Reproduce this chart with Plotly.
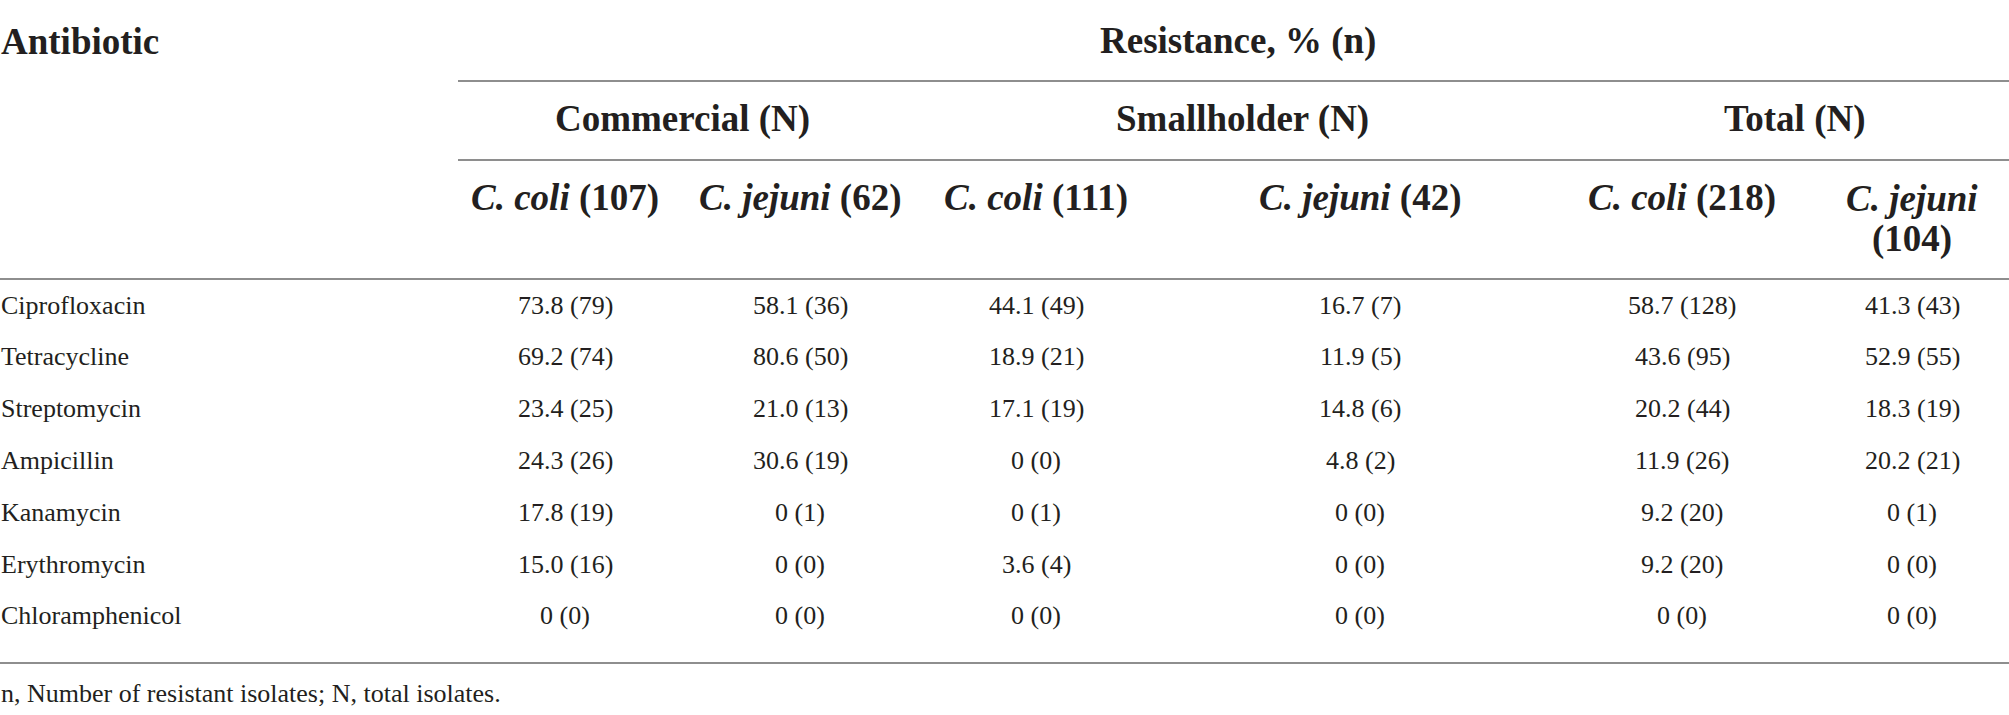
import plotly.graph_objects as go

# ---- data ----
antibiotics = ["Ciprofloxacin", "Tetracycline", "Streptomycin", "Ampicillin",
               "Kanamycin", "Erythromycin", "Chloramphenicol"]
group_headers = ["Commercial (N)", "Smallholder (N)", "Total (N)"]
species = ["C. coli", "C. jejuni", "C. coli", "C. jejuni", "C. coli", "C. jejuni"]
species_n = [107, 62, 111, 42, 218, 104]

commercial_coli = ["73.8 (79)", "69.2 (74)", "23.4 (25)", "24.3 (26)", "17.8 (19)", "15.0 (16)", "0 (0)"]
commercial_jejuni = ["58.1 (36)", "80.6 (50)", "21.0 (13)", "30.6 (19)", "0 (1)", "0 (0)", "0 (0)"]
smallholder_coli = ["44.1 (49)", "18.9 (21)", "17.1 (19)", "0 (0)", "0 (1)", "3.6 (4)", "0 (0)"]
smallholder_jejuni = ["16.7 (7)", "11.9 (5)", "14.8 (6)", "4.8 (2)", "0 (0)", "0 (0)", "0 (0)"]
total_coli = ["58.7 (128)", "43.6 (95)", "20.2 (44)", "11.9 (26)", "9.2 (20)", "9.2 (20)", "0 (0)"]
total_jejuni = ["41.3 (43)", "52.9 (55)", "18.3 (19)", "20.2 (21)", "0 (1)", "0 (0)", "0 (0)"]
columns = [commercial_coli, commercial_jejuni, smallholder_coli,
           smallholder_jejuni, total_coli, total_jejuni]

stub_header = "Antibiotic"
spanner = "Resistance, % (n)"
footnote = "n, Number of resistant isolates; N, total isolates."

# ---- layout (positions / styles) ----
W, H = 2009, 715
COL_X = [565, 800, 1036, 1360, 1682, 1912]
GROUP_X = [682, 1242, 1795]
SPAN_X = 1238
RULE_X0 = 458
Y_TOP = 41
Y_RULE1 = 81
Y_GROUP = 119
Y_RULE2 = 160
Y_SUB = 198
Y_SUB2 = 239
Y_RULE3 = 279
ROW_Y0 = 305
ROW_STEP = 51.8
Y_RULE4 = 663
Y_FOOT = 693

FONT = "Liberation Serif"
TXT = "#231f20"
RULE = "#8e8e8e"
BODY = 26
HEAD = 37

fig = go.Figure()
ann = []

def add(text, x, y, size, anchor="center", bold=False):
    t = f"<b>{text}</b>" if bold else text
    ann.append(dict(x=x, y=y, xref="x", yref="y", text=t, showarrow=False,
                    xanchor=anchor, yanchor="middle",
                    align=anchor if anchor != "center" else "center",
                    font=dict(family=FONT, size=size, color=TXT), borderpad=0))

add(stub_header, 0, Y_TOP, HEAD, "left", True)
add(spanner, SPAN_X, Y_TOP, HEAD, "center", True)
for g, gx in zip(group_headers, GROUP_X):
    add(g, gx, Y_GROUP, HEAD, "center", True)
for i, (sp, n) in enumerate(zip(species, species_n)):
    if i == len(species) - 1:
        # header wraps onto two lines in the last (narrow) column
        add(f"<i>{sp}</i>", COL_X[i], Y_SUB, HEAD, "center", True)
        add(f"({n})", COL_X[i], Y_SUB2, HEAD, "center", True)
    else:
        add(f"<i>{sp}</i> ({n})", COL_X[i], Y_SUB, HEAD, "center", True)

for r, name in enumerate(antibiotics):
    y = ROW_Y0 + r * ROW_STEP
    add(name, 0, y, BODY, "left")
    for c, col in enumerate(columns):
        add(col[r], COL_X[c], y, BODY, "center")

add(footnote, 0, Y_FOOT, BODY, "left")

shapes = []
for x0, y in [(RULE_X0, Y_RULE1), (RULE_X0, Y_RULE2), (0, Y_RULE3), (0, Y_RULE4)]:
    shapes.append(dict(type="line", xref="x", yref="y", x0=x0, x1=W, y0=y, y1=y,
                       line=dict(color=RULE, width=2)))

fig.add_trace(go.Scatter(x=[0, W], y=[0, H], mode="markers", marker=dict(opacity=0),
                         hoverinfo="skip", showlegend=False))
fig.update_layout(
    width=W, height=H, margin=dict(l=0, r=0, t=0, b=0),
    paper_bgcolor="white", plot_bgcolor="white",
    xaxis=dict(range=[0, W], visible=False, fixedrange=True),
    yaxis=dict(range=[H, 0], visible=False, fixedrange=True),
    annotations=ann, shapes=shapes, showlegend=False,
)
fig.write_html("out.html", config={"displayModeBar": False},
               post_script="document.body.style.margin='0px';document.body.style.overflow='hidden';")
